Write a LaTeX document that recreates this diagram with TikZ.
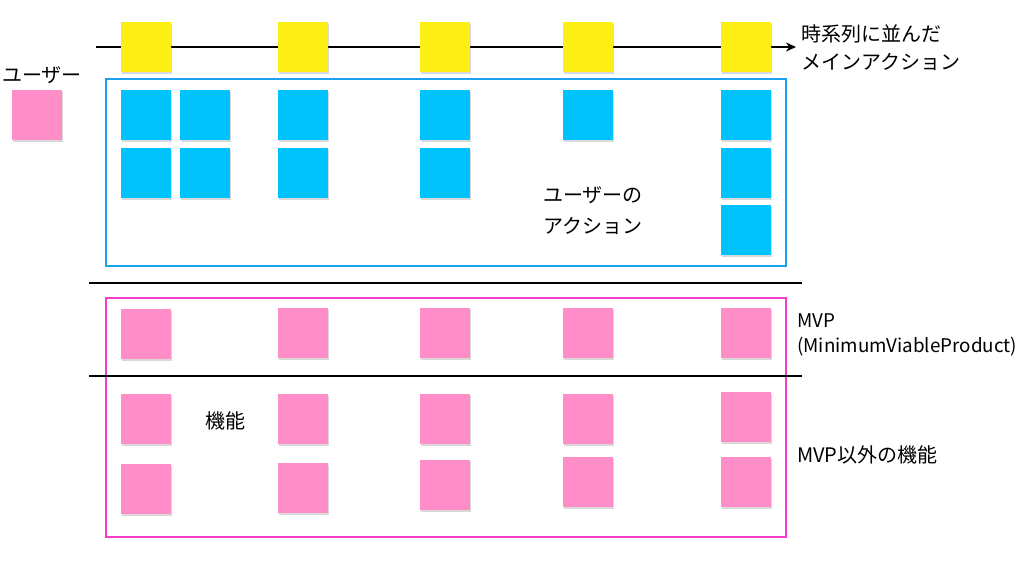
\documentclass[tikz,border=0pt]{standalone}
\usepackage{fontspec}
\setmainfont{Noto Sans CJK JP}
\usetikzlibrary{arrows.meta,positioning,shadows}
\definecolor{stickyyellow}{HTML}{FDEE14}
\definecolor{stickyblue}{HTML}{00C2FD}
\definecolor{stickypink}{HTML}{FF8DC8}
\definecolor{frameblue}{HTML}{1AA2EF}
\definecolor{framepink}{HTML}{F43DCB}
\tikzset{
    %Define standard arrow tip
    >={Stealth[length=10pt,width=9pt]},
    %Define style for sticky notes
    sticky/.style={
           rectangle,
           minimum size=50pt,
           inner sep=0pt,
           drop shadow={shadow xshift=0.6pt, shadow yshift=-1.8pt, opacity=0.3}},
    yellownote/.style={sticky, fill=stickyyellow},
    bluenote/.style={sticky, fill=stickyblue},
    pinknote/.style={sticky, fill=stickypink},
    % Define style for texts
    textnote/.style={
           inner sep=0pt,
           align=left,
           font=\fontsize{20pt}{28pt}\selectfont},
    % Define line styles
    groupframe/.style={line width=2.2pt},
    timeline/.style={->, line width=2pt},
    separator/.style={line width=2pt}
}

\begin{document}
\begin{tikzpicture}[x=1pt, y=-1pt]
 \useasboundingbox (0,0) rectangle (1024,563);
 %frames and lines
    \draw[groupframe, frameblue] (106,79) rectangle (786,266);
    \draw[groupframe, framepink] (106,298) rectangle (786,537);
    \coordinate (tstart) at (96,47);
    \coordinate (tend) at (796,47);
    \draw[timeline] (tstart) -- (tend);
    \coordinate (sepa) at (89,283);
    \coordinate (sepb) at (802,283);
    \coordinate (sepc) at (89,376);
    \coordinate (sepd) at (802,376);
    \draw[separator] (sepa) -- (sepb);
    \draw[separator] (sepc) -- (sepd);
 %user
    \node[textnote] (user) at (42,75) {ユーザー};
    \node[pinknote] (usernote) at (37,115) {};
 %main actions
    \node[yellownote] (m1) at (146,47) {};
    \node[yellownote] (m2) at (303,47) {};
    \node[yellownote] (m3) at (445,47) {};
    \node[yellownote] (m4) at (588,47) {};
    \node[yellownote] (m5) at (746,47) {};
 %user actions
    \node[bluenote, below=18pt of m1] (ua1) {};
    \node[bluenote, below=7pt of ua1] (ua2) {};
    \node[bluenote, right=9pt of ua1] (ub1) {};
    \node[bluenote, below=7pt of ub1] (ub2) {};
    \node[bluenote, below=18pt of m2] (uc1) {};
    \node[bluenote, below=7pt of uc1] (uc2) {};
    \node[bluenote, below=18pt of m3] (ud1) {};
    \node[bluenote, below=7pt of ud1] (ud2) {};
    \node[bluenote, below=18pt of m4] (ue1) {};
    \node[bluenote, below=18pt of m5] (uf1) {};
    \node[bluenote, below=7pt of uf1] (uf2) {};
    \node[bluenote, below=7pt of uf2] (uf3) {};
 %mvp features
    \node[pinknote] (mvp1) at (146,334) {};
    \node[pinknote] (mvp2) at (303,333) {};
    \node[pinknote] (mvp3) at (445,333) {};
    \node[pinknote] (mvp4) at (588,333) {};
    \node[pinknote] (mvp5) at (746,333) {};
 %other features
    \node[pinknote] (fa1) at (146,419) {};
    \node[pinknote] (fb1) at (303,419) {};
    \node[pinknote] (fc1) at (445,419) {};
    \node[pinknote] (fd1) at (588,419) {};
    \node[pinknote] (fe1) at (746,417) {};
    \node[pinknote] (fa2) at (146,489) {};
    \node[pinknote] (fb2) at (303,488) {};
    \node[pinknote] (fc2) at (445,485) {};
    \node[pinknote] (fd2) at (588,482) {};
    \node[pinknote] (fe2) at (746,482) {};
 %texts
    \node[textnote, anchor=west] (maintext) at (801,48) {時系列に並んだ\\メインアクション};
    \node[textnote, anchor=west, font=\fontsize{20pt}{31pt}\selectfont] (acttext) at (543,211) {ユーザーの\\アクション};
    \node[textnote] (feattext) at (225,421) {機能};
    \node[textnote, anchor=west, font=\fontsize{18.8pt}{25pt}\selectfont] (mvptext) at (797,335) {MVP\\(MinimumViableProduct)};
    \node[textnote, anchor=west] (othertext) at (797,455) {MVP以外の機能};
\end{tikzpicture}
\end{document}
